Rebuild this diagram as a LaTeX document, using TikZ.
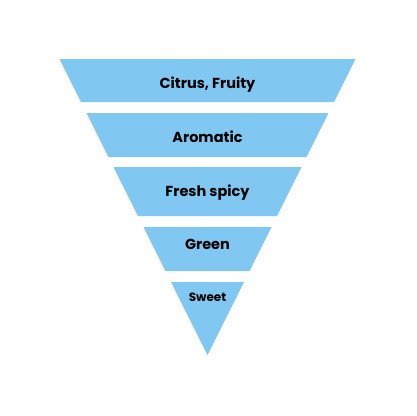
\documentclass[tikz,border=0pt]{standalone}
\usepackage{fontspec}
\setmainfont{Poppins}[BoldFont={* Bold}]
\definecolor{layerblue}{HTML}{80C7F2}
\begin{document}
\begin{tikzpicture}[x=1pt,y=-1pt,
  layer/.style={fill=layerblue,draw=none},
  lbl/.style={font=\bfseries\fontsize{14.5}{17}\selectfont,text=black,inner sep=0pt,anchor=base},
  lblsmall/.style={font=\bfseries\fontsize{12}{14}\selectfont,text=black,inner sep=0pt,anchor=base}]
\useasboundingbox (0,0) rectangle (416,416);
% half-width = 0.5*(355-y), centre x=207.5
\fill[layer] (59.5,59) -- (355.5,59) -- (334,102) -- (81,102) -- cycle;
\fill[layer] (86.5,113) -- (328.5,113) -- (306.5,157) -- (108.5,157) -- cycle;
\fill[layer] (113.5,167) -- (301.5,167) -- (277,216) -- (138,216) -- cycle;
\fill[layer] (143.5,227) -- (271.5,227) -- (249.5,271) -- (165.5,271) -- cycle;
\fill[layer] (171,282) -- (244,282) -- (207.5,355) -- cycle;
\node[lbl] (l1) at (207.5,88) {Citrus, Fruity};
\node[lbl] (l2) at (207.5,142) {Aromatic};
\node[lbl] (l3) at (207.5,196) {Fresh spicy};
\node[lbl] (l4) at (207.5,249.5) {Green};
\node[lblsmall] (l5) at (207.5,301) {Sweet};
\end{tikzpicture}
\end{document}
